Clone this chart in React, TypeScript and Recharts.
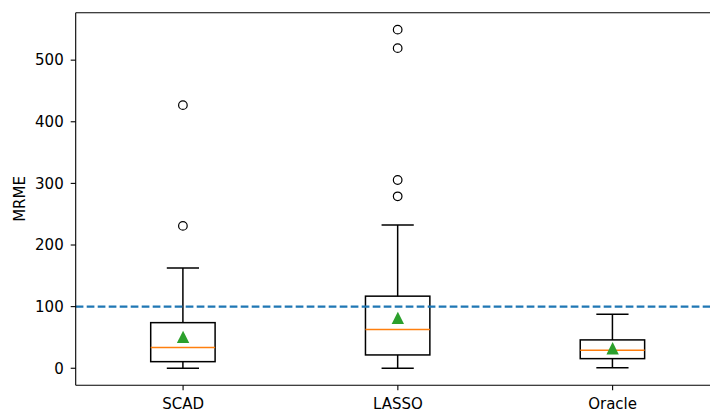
import { ComposedChart, Bar, Scatter, XAxis, YAxis, ReferenceLine } from "recharts";

const CATEGORIES = ["SCAD", "LASSO", "Oracle"];
const LOWER_WHISKER = [0, 0, 1];
const Q1 = [10.7, 21.6, 15.6];
const MEDIAN = [33.5, 62.7, 29.2];
const Q3 = [74, 117, 46];
const UPPER_WHISKER = [162.5, 232.6, 87.7];
const MEANS = [51, 81.7, 32.5];
const OUTLIERS = [[231, 427], [279, 305.5, 519.5, 549.5], []];
const Y_TICKS = [0, 100, 200, 300, 400, 500];
const Y_DOMAIN = [-27.5, 577];
const THRESHOLD = 100;

const FONT = "'DejaVu Sans', sans-serif";
const TICK = { fontSize: 15, fill: "#000", fontFamily: FONT };

const data = CATEGORIES.map((name, i) => ({
  name,
  lo: LOWER_WHISKER[i],
  q1: Q1[i],
  med: MEDIAN[i],
  q3: Q3[i],
  hi: UPPER_WHISKER[i],
  mean: MEANS[i],
  outliers: OUTLIERS[i],
}));

// one bar spans lo..hi; everything else is placed on the same pixel scale
const BoxShape = (props: any) => {
  const { x, y, width, height, payload } = props;
  const k = height / (payload.hi - payload.lo);
  const py = (v: number) => y + (payload.hi - v) * k;
  const cx = x + width / 2;
  const cap = width / 4;
  const s = { stroke: "#000", strokeWidth: 1.5 };
  return (
    <g>
      <rect x={x} y={py(payload.q3)} width={width} height={py(payload.q1) - py(payload.q3)} fill="none" {...s} />
      <line x1={cx} x2={cx} y1={py(payload.q1)} y2={py(payload.lo)} {...s} />
      <line x1={cx} x2={cx} y1={py(payload.q3)} y2={py(payload.hi)} {...s} />
      <line x1={cx - cap} x2={cx + cap} y1={py(payload.lo)} y2={py(payload.lo)} {...s} />
      <line x1={cx - cap} x2={cx + cap} y1={py(payload.hi)} y2={py(payload.hi)} {...s} />
      <line x1={x} x2={x + width} y1={py(payload.med)} y2={py(payload.med)} stroke="#ff7f0e" strokeWidth={1.5} />
      {payload.outliers.map((v: number, j: number) => (
        <circle key={j} cx={cx} cy={py(v)} r={4.3} fill="none" stroke="#000" strokeWidth={1.2} />
      ))}
    </g>
  );
};

const MeanMarker = (props: any) => {
  const { cx, cy } = props;
  const h = 6.2;
  return <polygon points={`${cx},${cy - h} ${cx - h},${cy + h} ${cx + h},${cy + h}`} fill="#2ca02c" />;
};

const YLabel = ({ viewBox }: any) => {
  const x = viewBox.x + 20.5;
  const y = viewBox.y + viewBox.height / 2;
  return (
    <text x={x} y={y} transform={`rotate(-90 ${x} ${y})`} textAnchor="middle" dominantBaseline="central"
      fontSize={15} fontFamily={FONT} fill="#000">
      MRME
    </text>
  );
};

export default function App() {
  return (
    <div style={{ position: "absolute", left: 0, top: 0, width: 710, height: 411, overflow: "hidden", background: "#fff" }}>
      <ComposedChart width={720} height={411} data={data} margin={{ top: 12.7, right: 0, bottom: 0, left: 0 }}>
        <XAxis dataKey="name" height={25.8} tick={TICK} tickSize={5} tickMargin={8}
          axisLine={{ stroke: "#000", strokeWidth: 1.1 }} tickLine={{ stroke: "#000", strokeWidth: 1.1 }} />
        <YAxis type="number" domain={Y_DOMAIN} ticks={Y_TICKS} width={75.7} tick={TICK} tickSize={5} tickMargin={7}
          axisLine={{ stroke: "#000", strokeWidth: 1.1 }} tickLine={{ stroke: "#000", strokeWidth: 1.1 }}
          allowDataOverflow label={<YLabel />} />
        <ReferenceLine y={Y_DOMAIN[1]} stroke="#000" strokeWidth={1.1} ifOverflow="visible" />
        <Bar dataKey={(d: any) => [d.lo, d.hi]} barSize={64.4} shape={<BoxShape />} isAnimationActive={false} />
        <Scatter dataKey="mean" shape={<MeanMarker />} isAnimationActive={false} />
        <ReferenceLine y={THRESHOLD} stroke="#1f77b4" strokeWidth={2.1} strokeDasharray="7.7 3.3" />
      </ComposedChart>
    </div>
  );
}
